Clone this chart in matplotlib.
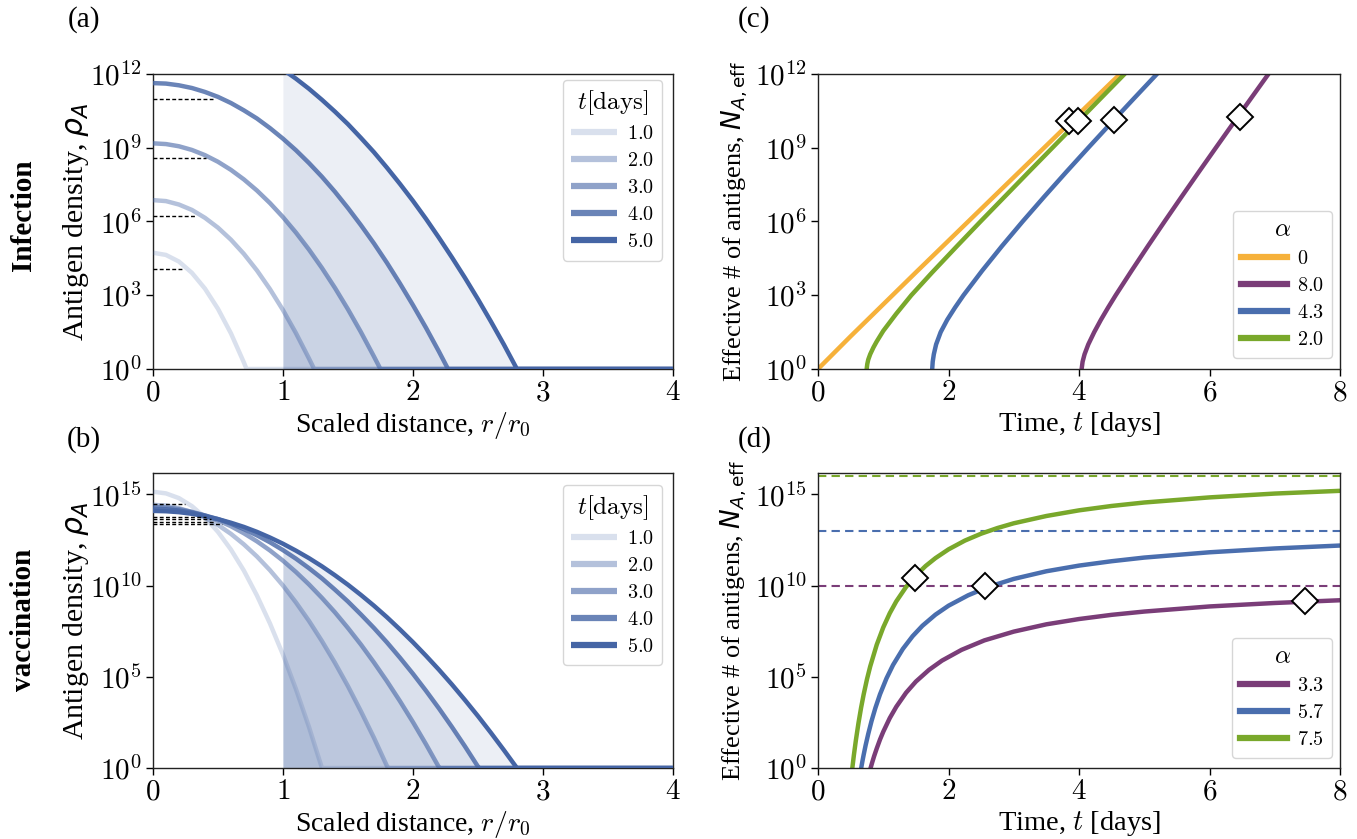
import numpy as np
import matplotlib
matplotlib.use('Agg')
import matplotlib.pyplot as plt
from matplotlib.ticker import FixedLocator, FuncFormatter, NullLocator

plt.rcParams['font.family'] = ['Liberation Serif', 'DejaVu Serif']
plt.rcParams['mathtext.fontset'] = 'cm'
plt.rcParams['axes.edgecolor'] = '#222222'
plt.rcParams['axes.linewidth'] = 1.0

# ---- data (log10 values) ----
days = [1.0, 2.0, 3.0, 4.0, 5.0]
r_step = 0.1  # sampling of the profiles in r/r0

# infection profiles, log10(rho_A) at r = 0, 0.1, 0.2, ...
inf_logrho = [
    [4.73, 4.64, 4.37, 3.91, 3.27, 2.45, 1.45, 0.26],
    [6.87, 6.83, 6.69, 6.47, 6.15, 5.75, 5.26, 4.68, 4.01, 3.25, 2.40, 1.46, 0.43],
    [9.18, 9.15, 9.06, 8.91, 8.70, 8.43, 8.10, 7.71, 7.26, 6.75, 6.18, 5.55, 4.86,
     4.11, 3.30, 2.43, 1.50, 0.51],
    [11.63, 11.61, 11.54, 11.43, 11.27, 11.07, 10.82, 10.52, 10.19, 9.80, 9.37, 8.90,
     8.38, 7.82, 7.21, 6.55, 5.85, 5.11, 4.32, 3.48, 2.60, 1.68, 0.71],
    [13.96, 13.94, 13.89, 13.80, 13.68, 13.52, 13.32, 13.09, 12.82, 12.52, 12.18, 11.81,
     11.40, 10.95, 10.47, 9.96, 9.40, 8.82, 8.19, 7.53, 6.84, 6.11, 5.34, 4.54, 3.71,
     2.84, 1.93, 0.99],
]
inf_cutoff = [0.72, 1.24, 1.75, 2.27, 2.80]
inf_dash_level = [4.08, 6.23, 8.57, 11.0]
inf_dash_len = [0.24, 0.33, 0.41, 0.46]

# vaccination profiles
vac_logrho = [
    [15.15, 15.06, 14.80, 14.36, 13.74, 12.95, 11.98, 10.82, 9.46, 7.93, 6.22, 4.33, 2.26],
    [14.43, 14.39, 14.25, 14.03, 13.72, 13.33, 12.84, 12.26, 11.60, 10.85, 10.01, 9.08,
     8.07, 6.96, 5.77, 4.49, 3.11, 1.66, 0.11],
    [14.32, 14.29, 14.20, 14.05, 13.85, 13.58, 13.26, 12.87, 12.43, 11.93, 11.37, 10.75,
     10.07, 9.33, 8.54, 7.68, 6.77, 5.79, 4.76, 3.67, 2.52, 1.31, 0.04],
    [14.21, 14.19, 14.12, 14.01, 13.85, 13.65, 13.40, 13.10, 12.76, 12.38, 11.95, 11.48,
     10.96, 10.40, 9.78, 9.13, 8.42, 7.68, 6.89, 6.05, 5.17, 4.24, 3.27, 2.25, 1.19, 0.08],
    [14.10, 14.08, 14.03, 13.94, 13.81, 13.65, 13.45, 13.22, 12.95, 12.64, 12.30, 11.92,
     11.51, 11.06, 10.57, 10.05, 9.49, 8.90, 8.27, 7.60, 6.90, 6.16, 5.39, 4.58, 3.73,
     2.85, 1.93, 0.98],
]
vac_cutoff = [1.30, 1.81, 2.21, 2.51, 2.80]
vac_dash_level = [14.49, 13.75, 13.63, 13.50, 13.39]
vac_dash_len = [0.25, 0.41, 0.45, 0.48, 0.53]

# (c) effective number of antigens, infection
c_labels = ['0', '8.0', '4.3', '2.0']
c_t = [
    [0, 0.5, 1, 1.5, 2, 2.5, 3, 3.5, 4, 4.5, 4.75],
    [4.04, 4.055, 4.085, 4.142, 4.233, 4.335, 4.446, 4.562, 4.806, 5.056, 5.311, 5.57,
     5.832, 6.097, 6.364, 6.633, 6.903, 6.984],
    [1.75, 1.758, 1.775, 1.81, 1.88, 1.98, 2.10, 2.23, 2.516, 2.819, 3.136, 3.464, 3.80,
     4.142, 4.489, 4.84, 5.194, 5.30],
    [0.746, 0.755, 0.77, 0.8, 0.85, 0.9, 1.0, 1.2, 1.43, 1.75, 2.12, 2.48, 2.85, 3.22,
     3.6, 3.95, 4.3, 4.68, 4.8],
]
c_logN = [
    [0, 1.33, 2.63, 3.93, 5.22, 6.51, 7.80, 9.09, 10.38, 11.67, 12.3],
    [0, 0.3, 0.6, 1.0, 1.5, 2.0, 2.5, 3.0, 4, 5, 6, 7, 8, 9, 10, 11, 12, 12.3],
    [0, 0.3, 0.6, 1.0, 1.5, 2.0, 2.5, 3.0, 4, 5, 6, 7, 8, 9, 10, 11, 12, 12.3],
    [0, 0.2, 0.38, 0.6, 0.88, 1.12, 1.55, 2.25, 3.0, 3.93, 4.97, 5.97, 6.98, 7.99, 9.02,
     9.97, 10.92, 11.95, 12.28],
]
c_mark_t = [3.84, 6.46, 4.53, 3.98]
c_mark_logN = [10.1, 10.24, 10.14, 10.1]

# (d) effective number of antigens, vaccination
d_labels = ['3.3', '5.7', '7.5']
d_t = [
    [0.806, 0.83, 0.86, 0.9, 0.95, 1.0, 1.1, 1.2, 1.35, 1.5, 1.7, 1.9, 2.2, 2.55, 3.0,
     3.5, 4.0, 4.5, 5.0, 6.0, 7.0, 8.0],
    [0.662, 0.68, 0.7, 0.73, 0.77, 0.82, 0.88, 0.95, 1.05, 1.15, 1.3, 1.45, 1.6, 1.8,
     2.0, 2.3, 2.6, 3.0, 3.5, 4.0, 4.5, 5.0, 6.0, 7.0, 8.0],
    [0.526, 0.55, 0.58, 0.62, 0.66, 0.7, 0.75, 0.8, 0.9, 1.0, 1.1, 1.2, 1.35, 1.5, 1.65,
     1.8, 2.0, 2.25, 2.5, 2.75, 3.0, 3.5, 4.0, 4.5, 5.0, 6.0, 7.0, 8.0],
]
d_logN = [
    [0.0, 0.30, 0.65, 1.07, 1.56, 1.99, 2.74, 3.36, 4.13, 4.74, 5.38, 5.89, 6.48, 7.0,
     7.48, 7.88, 8.17, 8.40, 8.58, 8.86, 9.05, 9.2],
    [0.0, 0.36, 0.73, 1.25, 1.87, 2.57, 3.3, 4.04, 4.92, 5.65, 6.53, 7.23, 7.8, 8.41,
     8.9, 9.47, 9.92, 10.37, 10.79, 11.1, 11.34, 11.54, 11.83, 12.04, 12.2],
    [0.0, 0.71, 1.51, 2.46, 3.30, 4.04, 4.86, 5.57, 6.76, 7.71, 8.49, 9.14, 9.93, 10.56,
     11.08, 11.51, 11.99, 12.47, 12.85, 13.16, 13.42, 13.82, 14.13, 14.37, 14.56, 14.84,
     15.05, 15.2],
]
d_plateau = [10.0, 13.0, 16.0]
d_mark_t = [7.46, 2.56, 1.487]
d_mark_logN = [9.14, 10.0, 10.42]

# colours
prof_col = '#4565a5'
orange, purple, blue, green = '#f6b13a', '#7a3d78', '#4a6eae', '#79a82b'
c_colors = [orange, purple, blue, green]
d_colors = [purple, blue, green]

fig = plt.figure(figsize=(13.57, 8.39), dpi=100)
ax_a = fig.add_axes([0.1127, 0.5602, 0.3832, 0.3516])
ax_b = fig.add_axes([0.1127, 0.0846, 0.3832, 0.3516])
ax_c = fig.add_axes([0.6028, 0.5602, 0.3847, 0.3516])
ax_d = fig.add_axes([0.6028, 0.0846, 0.3847, 0.3516])

pow_fmt = FuncFormatter(lambda v, p: r'$10^{%d}$' % int(round(np.log10(v))))
int_fmt = FuncFormatter(lambda v, p: r'$%d$' % int(round(v)))

leg_kw = dict(fontsize=14.5, title_fontsize=18, handlelength=2.3, borderpad=0.4,
              labelspacing=0.4, borderaxespad=0, handletextpad=0.5)


def style(ax, xmax, xticks, ymax, yexp):
    ax.set_yscale('log')
    ax.set_xlim(0, xmax)
    ax.set_ylim(1, ymax)
    ax.xaxis.set_major_locator(FixedLocator(xticks))
    ax.xaxis.set_major_formatter(int_fmt)
    ax.yaxis.set_major_locator(FixedLocator([10.0 ** e for e in yexp]))
    ax.yaxis.set_major_formatter(pow_fmt)
    ax.yaxis.set_minor_locator(NullLocator())
    ax.tick_params(labelsize=21, direction='out', length=5, width=1, pad=3)


def profiles(ax, logrho, cutoff, dlev, dlen, leg_top):
    for i, (L, rc) in enumerate(zip(logrho, cutoff)):
        r = np.round(np.arange(len(L)) * r_step, 2)
        r = np.concatenate([r, [rc, 4.0]])
        rho = 10.0 ** np.concatenate([L, [0.0, 0.0]])
        a = (i + 1) / len(days)
        ax.plot(r, rho, color=prof_col, alpha=a, lw=3.2, solid_capstyle='butt',
                label=r'$%.1f$' % days[i], zorder=3)
        m = r >= 1.0
        ax.fill_between(r[m], 1, rho[m], color=prof_col, alpha=0.1, lw=0, zorder=1)
    for lev, ln in zip(dlev, dlen):
        ax.plot([0, ln], [10.0 ** lev] * 2, color='black', ls='--', lw=1.0,
                dashes=(2.8, 1.7), zorder=4)
    leg = ax.legend(loc='upper right', title=r'$t[\mathrm{days}]$',
                    bbox_to_anchor=(0.979, leg_top), **leg_kw)
    for ln in leg.get_lines():
        ln.set_linewidth(4.5)
    ax.set_xlabel(r'Scaled distance, $r/r_0$', fontsize=20, labelpad=3)
    ax.set_ylabel(r'Antigen density, $\rho_A$', fontsize=21.5,
                  math_fontfamily='dejavusans', labelpad=-1)


style(ax_a, 4, [0, 1, 2, 3, 4], 1e12, [0, 3, 6, 9, 12])
profiles(ax_a, inf_logrho, inf_cutoff, inf_dash_level, inf_dash_len, 0.98)

style(ax_b, 4, [0, 1, 2, 3, 4], 1.5e16, [0, 5, 10, 15])
profiles(ax_b, vac_logrho, vac_cutoff, vac_dash_level, vac_dash_len, 0.96)

# (c)
style(ax_c, 8, [0, 2, 4, 6, 8], 1e12, [0, 3, 6, 9, 12])
for t, L, col, lab in zip(c_t, c_logN, c_colors, c_labels):
    ax_c.plot(t, 10.0 ** np.array(L), color=col, lw=3.2, label=r'$%s$' % lab)
ax_c.plot(c_mark_t, 10.0 ** np.array(c_mark_logN), ls='none', marker='D', ms=13,
          mfc='white', mec='black', mew=1.4, zorder=5)

# (d)
style(ax_d, 8, [0, 2, 4, 6, 8], 1.5e16, [0, 5, 10, 15])
for t, L, col, lab, pl in zip(d_t, d_logN, d_colors, d_labels, d_plateau):
    ax_d.plot(t, 10.0 ** np.array(L), color=col, lw=3.2, label=r'$%s$' % lab)
    ax_d.axhline(10.0 ** pl, color=col, ls='--', lw=1.5, dashes=(4, 2.5))
ax_d.plot(d_mark_t, 10.0 ** np.array(d_mark_logN), ls='none', marker='D', ms=13,
          mfc='white', mec='black', mew=1.4, zorder=5)

for ax, bot in ((ax_c, 0.037), (ax_d, 0.034)):
    leg = ax.legend(loc='lower right', title=r'$\alpha$',
                    bbox_to_anchor=(0.985, bot), **leg_kw)
    for ln in leg.get_lines():
        ln.set_linewidth(4.5)
    ax.set_xlabel(r'Time, $t$ [days]', fontsize=20.5, labelpad=3)
    ax.set_ylabel(r'Effective # of antigens, $N_{A,\mathrm{eff}}$', fontsize=19,
                  math_fontfamily='dejavusans', labelpad=4)

# panel letters and row titles
fig.text(0.062, 0.977, '(a)', fontsize=21, ha='center', va='center')
fig.text(0.062, 0.476, '(b)', fontsize=21, ha='center', va='center')
fig.text(0.556, 0.977, '(c)', fontsize=21, ha='center', va='center')
fig.text(0.556, 0.476, '(d)', fontsize=21, ha='center', va='center')
fig.text(0.017, 0.744, 'Infection', fontsize=21, weight='bold', rotation=90,
         ha='center', va='center')
fig.text(0.017, 0.261, 'vaccination', fontsize=21, weight='bold', rotation=90,
         ha='center', va='center')

fig.savefig('out.png', dpi=100)
